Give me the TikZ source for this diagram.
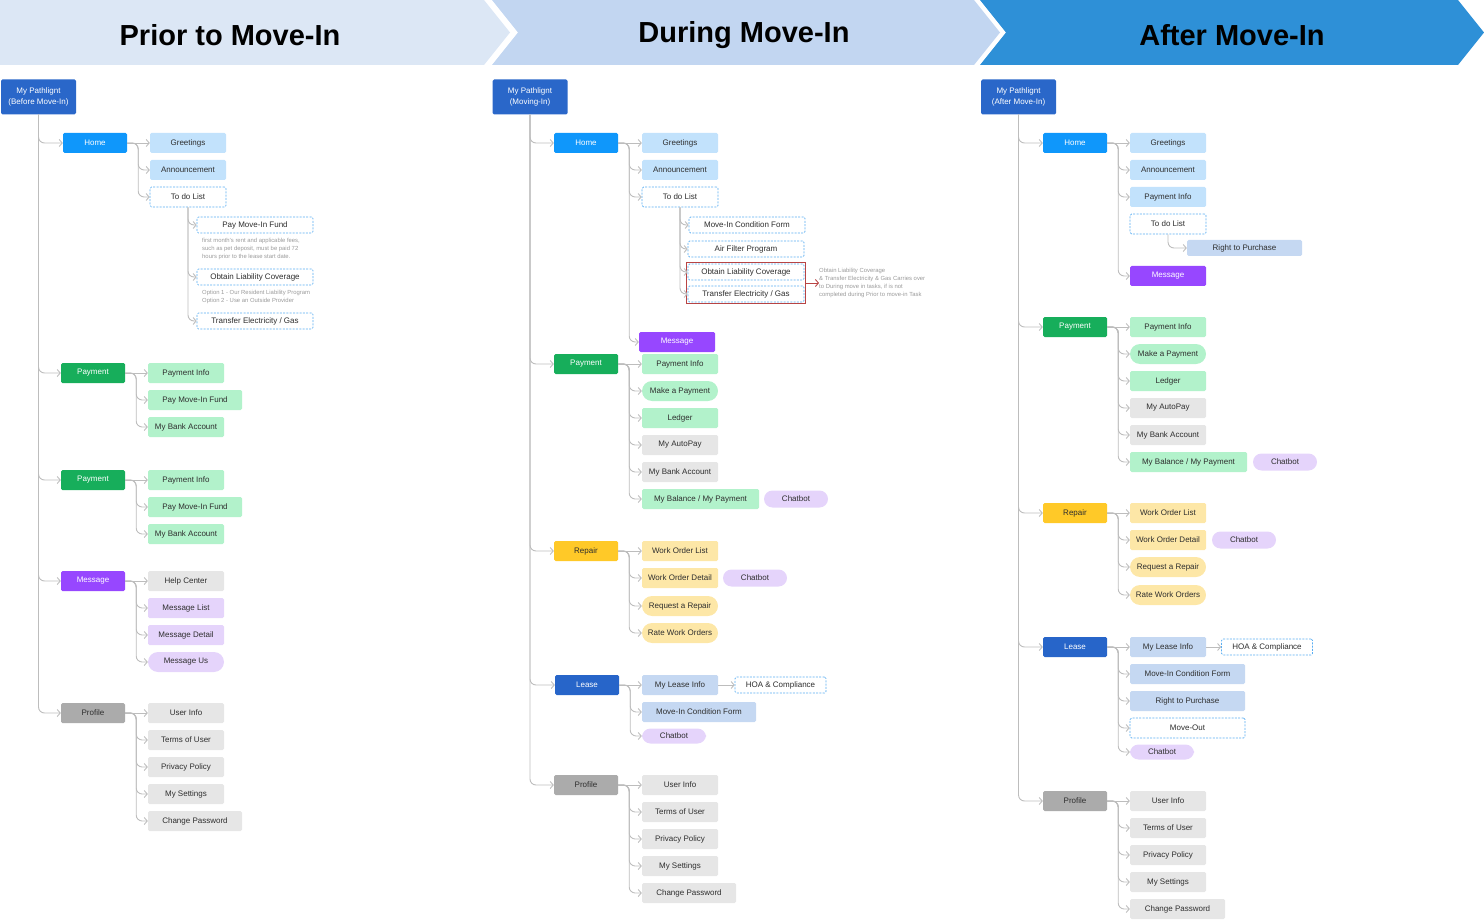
\documentclass[tikz,border=0pt]{standalone}
\usepackage{fontspec}
\setmainfont{Liberation Sans}
\usepackage{tikz}
\usetikzlibrary{arrows.meta,fit}
\usepackage{xcolor}
\definecolor{rootblue}{HTML}{2A67C9}
\definecolor{homeblue}{HTML}{0F97FB}
\definecolor{homelight}{HTML}{C2E2FC}
\definecolor{paygreen}{HTML}{17AE5B}
\definecolor{paylight}{HTML}{B2F2CB}
\definecolor{msgpurple}{HTML}{9747FF}
\definecolor{msglight}{HTML}{E5D4FB}
\definecolor{profgray}{HTML}{ABABAB}
\definecolor{proflight}{HTML}{E6E6E6}
\definecolor{repairyellow}{HTML}{FFC928}
\definecolor{repairlight}{HTML}{FDE7A7}
\definecolor{leaseblue}{HTML}{2765C9}
\definecolor{leaselight}{HTML}{C5D8F2}
\definecolor{dashblue}{HTML}{5AAEF2}
\definecolor{conngray}{HTML}{BDBDBD}
\definecolor{textgray}{HTML}{2E2E2E}
\definecolor{notegray}{HTML}{9A9A9A}
\definecolor{carryred}{HTML}{B84444}
\definecolor{headone}{HTML}{DCE7F5}
\definecolor{headtwo}{HTML}{C2D6F1}
\definecolor{headthree}{HTML}{2E90D7}

\begin{document}
\begin{tikzpicture}[x=1pt,y=-1pt,
  box/.style={rectangle, rounded corners=1.5, minimum height=20, inner sep=0, align=center, text=textgray, font=\fontsize{8}{9.6}\selectfont},
  root/.style={box, fill=rootblue, text=white, minimum width=75, minimum height=35, font=\fontsize{8}{11}\selectfont},
  cat/.style={box, fill=#1, text=white, minimum width=64},
  sub/.style={box, fill=#1, minimum width=76},
  pill/.style={box, fill=#1, minimum width=76, rounded corners=10},
  chat/.style={box, fill=msglight, minimum width=64, minimum height=17, rounded corners=8.5},
  dashbox/.style={box, fill=white, draw=dashblue, line width=0.7, dash pattern=on 2pt off 1.3pt},
  todo/.style={dashbox, minimum width=76},
  task/.style={dashbox, minimum width=116, minimum height=16},
  hoa/.style={dashbox, minimum width=91, minimum height=16},
  note/.style={anchor=north west, inner sep=0, align=left, text=notegray, font=\fontsize{5.9}{7.7}\selectfont},
  carry/.style={draw=carryred, line width=0.9, inner sep=1.5, rectangle},
  conn/.style={draw=conngray, line width=0.9, rounded corners=6, -{Straight Barb[length=3pt,width=7pt]}},
  carryarrow/.style={draw=carryred, line width=0.9, -{Straight Barb[length=3pt,width=7pt]}},
  head/.style={font=\fontsize{29}{34}\selectfont\bfseries, text=black}
]
\useasboundingbox (0,0) rectangle (1484,920);
% Phase banners
\fill[headone] (0,0) -- (484,0) -- (510,32.5) -- (484,65) -- (0,65) -- cycle;
\fill[headtwo] (492,0) -- (974,0) -- (1000,32.5) -- (974,65) -- (492,65) -- (518,32.5) -- cycle;
\fill[headthree] (980,0) -- (1458,0) -- (1484,32.5) -- (1458,65) -- (980,65) -- (1006,32.5) -- cycle;
\node[head] (hprior) at (230,35) {Prior to Move-In};
\node[head] (hduring) at (744,35) {During Move-In};
\node[head] (hafter) at (1232,35) {After Move-In};

% Prior to Move-In
\node[root] (aroot) at (38.5,97) {My Pathlignt\\(Before Move-In)};
\node[cat=homeblue] (ahome) at (95,143) {Home};
\node[sub=homelight] (agreet) at (188,143) {Greetings};
\node[sub=homelight] (aann) at (188,170) {Announcement};
\node[todo] (atodo) at (188,197) {To do List};
\node[task] (afund) at (255,225) {Pay Move-In Fund};
\node[note] (afundnote) at (202,238.5) {first month's rent and applicable fees,\\such as pet deposit, must be paid 72\\hours prior to the lease start date.};
\node[task] (aliab) at (255,277) {Obtain Liability Coverage};
\node[note] (aliabnote) at (202,290.5) {Option 1 - Our Resident Liability Program\\Option 2 - Use an Outside Provider};
\node[task] (aelec) at (255,321) {Transfer Electricity / Gas};
\node[cat=paygreen] (apay) at (93,373) {Payment};
\node[sub=paylight] (apinfo) at (186,373) {Payment Info};
\node[sub=paylight, minimum width=94] (apfund) at (195,400) {Pay Move-In Fund};
\node[sub=paylight] (apbank) at (186,427) {My Bank Account};
\node[cat=paygreen] (apayb) at (93,480) {Payment};
\node[sub=paylight] (apinfob) at (186,480) {Payment Info};
\node[sub=paylight, minimum width=94] (apfundb) at (195,507) {Pay Move-In Fund};
\node[sub=paylight] (apbankb) at (186,534) {My Bank Account};
\node[cat=msgpurple] (amsg) at (93,581) {Message};
\node[sub=proflight] (ahelp) at (186,581) {Help Center};
\node[sub=msglight] (amlist) at (186,608) {Message List};
\node[sub=msglight] (amdet) at (186,635) {Message Detail};
\node[pill=msglight] (amus) at (186,662) {Message Us};
\node[cat=profgray, text=textgray] (aprof) at (93,713) {Profile};
\node[sub=proflight] (auser) at (186,713) {User Info};
\node[sub=proflight] (aterms) at (186,740) {Terms of User};
\node[sub=proflight] (apriv) at (186,767) {Privacy Policy};
\node[sub=proflight] (aset) at (186,794) {My Settings};
\node[sub=proflight, minimum width=94] (apass) at (195,821) {Change Password};
% Prior connectors
\foreach \kid in {ahome,apay,apayb,amsg,aprof} \draw[conn] (aroot.south) |- (\kid.west);
\draw[conn] (ahome.east) -- (agreet.west);
\foreach \kid in {aann,atodo} \draw[conn] (ahome.east) -- ++(11,0) |- (\kid.west);
\foreach \kid in {afund,aliab,aelec} \draw[conn] (atodo.south) |- (\kid.west);
\draw[conn] (apay.east) -- (apinfo.west);
\foreach \kid in {apfund,apbank} \draw[conn] (apay.east) -- ++(11,0) |- (\kid.west);
\draw[conn] (apayb.east) -- (apinfob.west);
\foreach \kid in {apfundb,apbankb} \draw[conn] (apayb.east) -- ++(11,0) |- (\kid.west);
\draw[conn] (amsg.east) -- (ahelp.west);
\foreach \kid in {amlist,amdet,amus} \draw[conn] (amsg.east) -- ++(11,0) |- (\kid.west);
\draw[conn] (aprof.east) -- (auser.west);
\foreach \kid in {aterms,apriv,aset,apass} \draw[conn] (aprof.east) -- ++(11,0) |- (\kid.west);

% During Move-In
\node[root] (broot) at (530,97) {My Pathlignt\\(Moving-In)};
\node[cat=homeblue] (bhome) at (586,143) {Home};
\node[sub=homelight] (bgreet) at (680,143) {Greetings};
\node[sub=homelight] (bann) at (680,170) {Announcement};
\node[todo] (btodo) at (680,197) {To do List};
\node[task] (bcond) at (747,225) {Move-In Condition Form};
\node[task] (bair) at (746,249) {Air Filter Program};
\node[task] (bliab) at (746,272) {Obtain Liability Coverage};
\node[task] (belec) at (746,294) {Transfer Electricity / Gas};
\node[carry, fit=(bliab)(belec)] (bcarry) {};
\node[note, anchor=west] (bcarrynote) at (819,283) {Obtain Liability Coverage\\\& Transfer Electricity \& Gas Carries over\\to During move in tasks, if is not\\completed during Prior to move-in Task};
\node[sub=msgpurple, text=white] (bmsg) at (677,342) {Message};
\node[cat=paygreen] (bpay) at (586,364) {Payment};
\node[sub=paylight] (bpinfo) at (680,364) {Payment Info};
\node[pill=paylight] (bmake) at (680,391) {Make a Payment};
\node[sub=paylight] (bledger) at (680,418) {Ledger};
\node[sub=proflight] (bauto) at (680,445) {My AutoPay};
\node[sub=proflight] (bbank) at (680,472) {My Bank Account};
\node[sub=paylight, minimum width=117] (bbal) at (700.5,499) {My Balance / My Payment};
\node[chat] (bbalchat) at (796,499) {Chatbot};
\node[cat=repairyellow, text=textgray] (brep) at (586,551) {Repair};
\node[sub=repairlight] (bwlist) at (680,551) {Work Order List};
\node[sub=repairlight] (bwdet) at (680,578) {Work Order Detail};
\node[chat] (bwchat) at (755,578) {Chatbot};
\node[pill=repairlight] (breq) at (680,606) {Request a Repair};
\node[pill=repairlight] (brate) at (680,633) {Rate Work Orders};
\node[cat=leaseblue] (blease) at (587,685) {Lease};
\node[sub=leaselight] (blinfo) at (680,685) {My Lease Info};
\node[hoa] (bhoa) at (780.5,685) {HOA \& Compliance};
\node[sub=leaselight, minimum width=114] (blcond) at (699,712) {Move-In Condition Form};
\node[chat, minimum height=15] (blchat) at (674,736) {Chatbot};
\node[cat=profgray, text=textgray] (bprof) at (586,785) {Profile};
\node[sub=proflight] (buser) at (680,785) {User Info};
\node[sub=proflight] (bterms) at (680,812) {Terms of User};
\node[sub=proflight] (bpriv) at (680,839) {Privacy Policy};
\node[sub=proflight] (bset) at (680,866) {My Settings};
\node[sub=proflight, minimum width=94] (bpass) at (689,893) {Change Password};
% During connectors
\foreach \kid in {bhome,bpay,brep,blease,bprof} \draw[conn] (broot.south) |- (\kid.west);
\draw[conn] (bhome.east) -- (bgreet.west);
\foreach \kid in {bann,btodo,bmsg} \draw[conn] (bhome.east) -- ++(11,0) |- (\kid.west);
\foreach \kid in {bcond,bair,bliab,belec} \draw[conn] (btodo.south) |- (\kid.west);
\draw[carryarrow] (bcarry.east) -- (bcarrynote.west);
\draw[conn] (bpay.east) -- (bpinfo.west);
\foreach \kid in {bmake,bledger,bauto,bbank,bbal} \draw[conn] (bpay.east) -- ++(11,0) |- (\kid.west);
\draw[conn] (brep.east) -- (bwlist.west);
\foreach \kid in {bwdet,breq,brate} \draw[conn] (brep.east) -- ++(11,0) |- (\kid.west);
\draw[conn] (blease.east) -- (blinfo.west);
\draw[conn] (blinfo.east) -- (bhoa.west);
\foreach \kid in {blcond,blchat} \draw[conn] (blease.east) -- ++(11,0) |- (\kid.west);
\draw[conn] (bprof.east) -- (buser.west);
\foreach \kid in {bterms,bpriv,bset,bpass} \draw[conn] (bprof.east) -- ++(11,0) |- (\kid.west);

% After Move-In
\node[root] (croot) at (1018.5,97) {My Pathlignt\\(After Move-In)};
\node[cat=homeblue] (chome) at (1075,143) {Home};
\node[sub=homelight] (cgreet) at (1168,143) {Greetings};
\node[sub=homelight] (cann) at (1168,170) {Announcement};
\node[sub=homelight] (chinfo) at (1168,197) {Payment Info};
\node[todo] (ctodo) at (1168,224) {To do List};
\node[sub=leaselight, minimum width=115, minimum height=16] (crtp) at (1244.5,248) {Right to Purchase};
\node[sub=msgpurple, text=white] (cmsg) at (1168,276) {Message};
\node[cat=paygreen] (cpay) at (1075,327) {Payment};
\node[sub=paylight] (cpinfo) at (1168,327) {Payment Info};
\node[pill=paylight] (cmake) at (1168,354) {Make a Payment};
\node[sub=paylight] (cledger) at (1168,381) {Ledger};
\node[sub=proflight] (cauto) at (1168,408) {My AutoPay};
\node[sub=proflight] (cbank) at (1168,435) {My Bank Account};
\node[sub=paylight, minimum width=117] (cbal) at (1188.5,462) {My Balance / My Payment};
\node[chat] (cbalchat) at (1285,462) {Chatbot};
\node[cat=repairyellow, text=textgray] (crep) at (1075,513) {Repair};
\node[sub=repairlight] (cwlist) at (1168,513) {Work Order List};
\node[sub=repairlight] (cwdet) at (1168,540) {Work Order Detail};
\node[chat] (cwchat) at (1244,540) {Chatbot};
\node[pill=repairlight] (creq) at (1168,567) {Request a Repair};
\node[pill=repairlight] (crate) at (1168,595) {Rate Work Orders};
\node[cat=leaseblue] (clease) at (1075,647) {Lease};
\node[sub=leaselight] (clinfo) at (1168,647) {My Lease Info};
\node[hoa] (choa) at (1267,647) {HOA \& Compliance};
\node[sub=leaselight, minimum width=115] (clcond) at (1187.5,674) {Move-In Condition Form};
\node[sub=leaselight, minimum width=115] (clrtp) at (1187.5,701) {Right to Purchase};
\node[dashbox, minimum width=115] (clout) at (1187.5,728) {Move-Out};
\node[chat, minimum height=15] (clchat) at (1162,752) {Chatbot};
\node[cat=profgray, text=textgray] (cprof) at (1075,801) {Profile};
\node[sub=proflight] (cuser) at (1168,801) {User Info};
\node[sub=proflight] (cterms) at (1168,828) {Terms of User};
\node[sub=proflight] (cpriv) at (1168,855) {Privacy Policy};
\node[sub=proflight] (cset) at (1168,882) {My Settings};
\node[sub=proflight, minimum width=95] (cpass) at (1177.5,909) {Change Password};
% After connectors
\foreach \kid in {chome,cpay,crep,clease,cprof} \draw[conn] (croot.south) |- (\kid.west);
\draw[conn] (chome.east) -- (cgreet.west);
\foreach \kid in {cann,chinfo,cmsg} \draw[conn] (chome.east) -- ++(11,0) |- (\kid.west);
\draw[conn] (ctodo.south) |- (crtp.west);
\draw[conn] (cpay.east) -- (cpinfo.west);
\foreach \kid in {cmake,cledger,cauto,cbank,cbal} \draw[conn] (cpay.east) -- ++(11,0) |- (\kid.west);
\draw[conn] (crep.east) -- (cwlist.west);
\foreach \kid in {cwdet,creq,crate} \draw[conn] (crep.east) -- ++(11,0) |- (\kid.west);
\draw[conn] (clease.east) -- (clinfo.west);
\draw[conn] (clinfo.east) -- (choa.west);
\foreach \kid in {clcond,clrtp,clout,clchat} \draw[conn] (clease.east) -- ++(11,0) |- (\kid.west);
\draw[conn] (cprof.east) -- (cuser.west);
\foreach \kid in {cterms,cpriv,cset,cpass} \draw[conn] (cprof.east) -- ++(11,0) |- (\kid.west);
\end{tikzpicture}
\end{document}
